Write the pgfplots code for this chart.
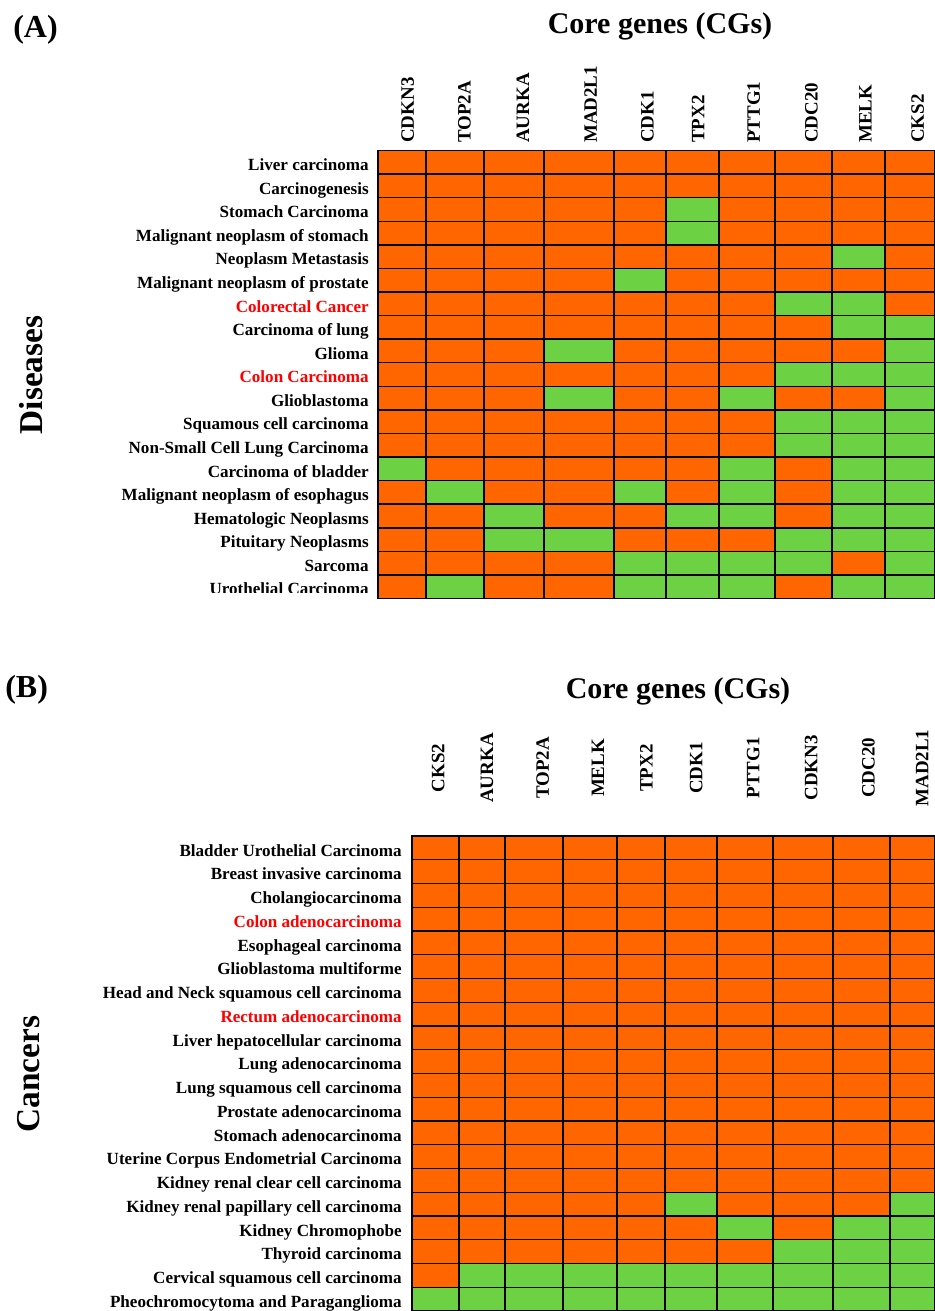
\documentclass[border=0pt]{standalone}
\usepackage{fontspec}
\setmainfont{Liberation Serif}
\usepackage{pgfplots}
\pgfplotsset{compat=1.18}
\definecolor{corange}{HTML}{FF6600}
\definecolor{cgreen}{HTML}{6DD144}

% column edges (pixel positions of the cell borders)
\def\edgesA{{378,426,484,544,614,666,719,775,832,885,935}}
\def\edgesB{{412,459,505,563,617,665,717,773,833,890,935}}

% one row of cells: #1 edges, #2 lower y of the row, #3 values (1 = orange, 0 = green)
\newcommand\cellrow[3]{%
  \foreach \v [count=\i from 0] in {#3}{%
    \pgfmathsetmacro\xa{#1[\i]}%
    \pgfmathsetmacro\xb{#1[\i+1]}%
    \pgfmathtruncatemacro\yb{#2+1}%
    \ifnum\v=1\relax\def\cc{corange}\else\def\cc{cgreen}\fi
    \edef\tmp{\noexpand\addplot[fill=\cc, draw=black, line width=1.1pt]
      coordinates {(\xa,#2) (\xb,#2) (\xb,\yb) (\xa,\yb)} -- cycle;}%
    \tmp
  }%
}

\begin{document}
\begin{tikzpicture}
\path[use as bounding box] (0,0) rectangle (701.25pt,-983.25pt);

% ---------------- Panel A ----------------
\begin{axis}[
  at={(283.5pt,-448.875pt)}, anchor=south west,
  width=417.75pt, height=336pt, scale only axis,
  xmin=378, xmax=935, ymin=0, ymax=19,
  axis line style={draw=none}, clip=false,
  xtick=\empty, major tick length=0pt,
  ytick={0.5,1.5,...,18.5},
  yticklabels={Urothelial Carcinoma, Sarcoma, Pituitary Neoplasms, Hematologic Neoplasms,
    Malignant neoplasm of esophagus, Carcinoma of bladder, Non-Small Cell Lung Carcinoma,
    Squamous cell carcinoma, Glioblastoma, \textcolor{red}{Colon Carcinoma}, Glioma,
    Carcinoma of lung, \textcolor{red}{Colorectal Cancer}, Malignant neoplasm of prostate,
    Neoplasm Metastasis, Malignant neoplasm of stomach, Stomach Carcinoma, Carcinogenesis,
    Liver carcinoma},
  yticklabel style={font=\bfseries\fontsize{12.8}{14}\selectfont, anchor=base east, inner sep=0pt, xshift=-6.75pt, yshift=-6.2pt},
]
% columns: CDKN3 TOP2A AURKA MAD2L1 CDK1 TPX2 PTTG1 CDC20 MELK CKS2
\cellrow{\edgesA}{18}{1,1,1,1,1,1,1,1,1,1}
\cellrow{\edgesA}{17}{1,1,1,1,1,1,1,1,1,1}
\cellrow{\edgesA}{16}{1,1,1,1,1,0,1,1,1,1}
\cellrow{\edgesA}{15}{1,1,1,1,1,0,1,1,1,1}
\cellrow{\edgesA}{14}{1,1,1,1,1,1,1,1,0,1}
\cellrow{\edgesA}{13}{1,1,1,1,0,1,1,1,1,1}
\cellrow{\edgesA}{12}{1,1,1,1,1,1,1,0,0,1}
\cellrow{\edgesA}{11}{1,1,1,1,1,1,1,1,0,0}
\cellrow{\edgesA}{10}{1,1,1,0,1,1,1,1,1,0}
\cellrow{\edgesA}{9}{1,1,1,1,1,1,1,0,0,0}
\cellrow{\edgesA}{8}{1,1,1,0,1,1,0,1,1,0}
\cellrow{\edgesA}{7}{1,1,1,1,1,1,1,0,0,0}
\cellrow{\edgesA}{6}{1,1,1,1,1,1,1,0,0,0}
\cellrow{\edgesA}{5}{0,1,1,1,1,1,0,1,0,0}
\cellrow{\edgesA}{4}{1,0,1,1,0,1,0,1,0,0}
\cellrow{\edgesA}{3}{1,1,0,1,1,0,0,1,0,0}
\cellrow{\edgesA}{2}{1,1,0,0,1,1,1,0,0,0}
\cellrow{\edgesA}{1}{1,1,1,1,0,0,0,0,1,0}
\cellrow{\edgesA}{0}{1,0,1,1,0,0,0,1,0,0}
\end{axis}

% ---------------- Panel B ----------------
\begin{axis}[
  at={(309pt,-983.25pt)}, anchor=south west,
  width=392.25pt, height=356.25pt, scale only axis,
  xmin=412, xmax=935, ymin=0, ymax=20,
  axis line style={draw=none}, clip=false,
  xtick=\empty, major tick length=0pt,
  ytick={0.5,1.5,...,19.5},
  yticklabels={Pheochromocytoma and Paraganglioma, Cervical squamous cell carcinoma\ ,
    Thyroid carcinoma, Kidney Chromophobe, Kidney renal papillary cell carcinoma,
    Kidney renal clear cell carcinoma, Uterine Corpus Endometrial Carcinoma,
    Stomach adenocarcinoma, Prostate adenocarcinoma, Lung squamous cell carcinoma,
    Lung adenocarcinoma, Liver hepatocellular carcinoma, \textcolor{red}{Rectum adenocarcinoma},
    Head and Neck squamous cell carcinoma, Glioblastoma multiforme, Esophageal carcinoma,
    \textcolor{red}{Colon adenocarcinoma}, Cholangiocarcinoma, Breast invasive carcinoma,
    Bladder Urothelial Carcinoma},
  yticklabel style={font=\bfseries\fontsize{12.8}{14}\selectfont, anchor=base east, inner sep=0pt, xshift=-7.5pt, yshift=-6.1pt},
]
% columns: CKS2 AURKA TOP2A MELK TPX2 CDK1 PTTG1 CDKN3 CDC20 MAD2L1
\cellrow{\edgesB}{19}{1,1,1,1,1,1,1,1,1,1}
\cellrow{\edgesB}{18}{1,1,1,1,1,1,1,1,1,1}
\cellrow{\edgesB}{17}{1,1,1,1,1,1,1,1,1,1}
\cellrow{\edgesB}{16}{1,1,1,1,1,1,1,1,1,1}
\cellrow{\edgesB}{15}{1,1,1,1,1,1,1,1,1,1}
\cellrow{\edgesB}{14}{1,1,1,1,1,1,1,1,1,1}
\cellrow{\edgesB}{13}{1,1,1,1,1,1,1,1,1,1}
\cellrow{\edgesB}{12}{1,1,1,1,1,1,1,1,1,1}
\cellrow{\edgesB}{11}{1,1,1,1,1,1,1,1,1,1}
\cellrow{\edgesB}{10}{1,1,1,1,1,1,1,1,1,1}
\cellrow{\edgesB}{9}{1,1,1,1,1,1,1,1,1,1}
\cellrow{\edgesB}{8}{1,1,1,1,1,1,1,1,1,1}
\cellrow{\edgesB}{7}{1,1,1,1,1,1,1,1,1,1}
\cellrow{\edgesB}{6}{1,1,1,1,1,1,1,1,1,1}
\cellrow{\edgesB}{5}{1,1,1,1,1,1,1,1,1,1}
\cellrow{\edgesB}{4}{1,1,1,1,1,0,1,1,1,0}
\cellrow{\edgesB}{3}{1,1,1,1,1,1,0,1,0,0}
\cellrow{\edgesB}{2}{1,1,1,1,1,1,1,0,0,0}
\cellrow{\edgesB}{1}{1,0,0,0,0,0,0,0,0,0}
\cellrow{\edgesB}{0}{0,0,0,0,0,0,0,0,0,0}
\end{axis}

% ---------------- texts (pixel coordinates) ----------------
\begin{scope}[x=0.75pt,y=-0.75pt]
\fill[white] (0,592.5) rectangle (374,615);
\node[anchor=base west, inner sep=0pt, font=\bfseries\fontsize{24}{28}\selectfont] at (13,37) {(A)};
\node[anchor=base west, inner sep=0pt, font=\bfseries\fontsize{24}{28}\selectfont] at (5,697) {(B)};
\node[anchor=base, inner sep=0pt, font=\bfseries\fontsize{22.5}{26}\selectfont] at (660,33) {Core genes (CGs)};
\node[anchor=base, inner sep=0pt, font=\bfseries\fontsize{22.5}{26}\selectfont] at (678,698) {Core genes (CGs)};
\node[anchor=base, rotate=90, inner sep=0pt, font=\bfseries\fontsize{25}{28}\selectfont] at (42,375) {Diseases};
\node[anchor=base, rotate=90, inner sep=0pt, font=\bfseries\fontsize{25}{28}\selectfont] at (39,1074) {Cancers};
\begin{scope}[every node/.style={rotate=90, anchor=west, inner sep=0pt, font=\bfseries\fontsize{14.2}{16}\selectfont}]
\node at (407.8,143) {CDKN3};
\node at (464.4,143) {TOP2A};
\node at (523,143) {AURKA};
\node at (590.5,143) {MAD2L1};
\node at (647.5,143) {CDK1};
\node at (698,143) {TPX2};
\node at (753.8,143) {PTTG1};
\node at (811.4,143) {CDC20};
\node at (865.5,143) {MELK};
\node at (917.7,143) {CKS2};
\end{scope}
\begin{scope}[every node/.style={rotate=90, anchor=center, inner sep=0pt, font=\bfseries\fontsize{14.2}{16}\selectfont}]
\node at (438.2,768) {CKS2};
\node at (487,768) {AURKA};
\node at (542.7,768) {TOP2A};
\node at (598,768) {MELK};
\node at (646.4,768) {TPX2};
\node at (696.2,768) {CDK1};
\node at (753.2,768) {PTTG1};
\node at (811.3,768) {CDKN3};
\node at (868.3,768) {CDC20};
\node at (922.2,768) {MAD2L1};
\end{scope}
\end{scope}
\end{tikzpicture}
\end{document}
